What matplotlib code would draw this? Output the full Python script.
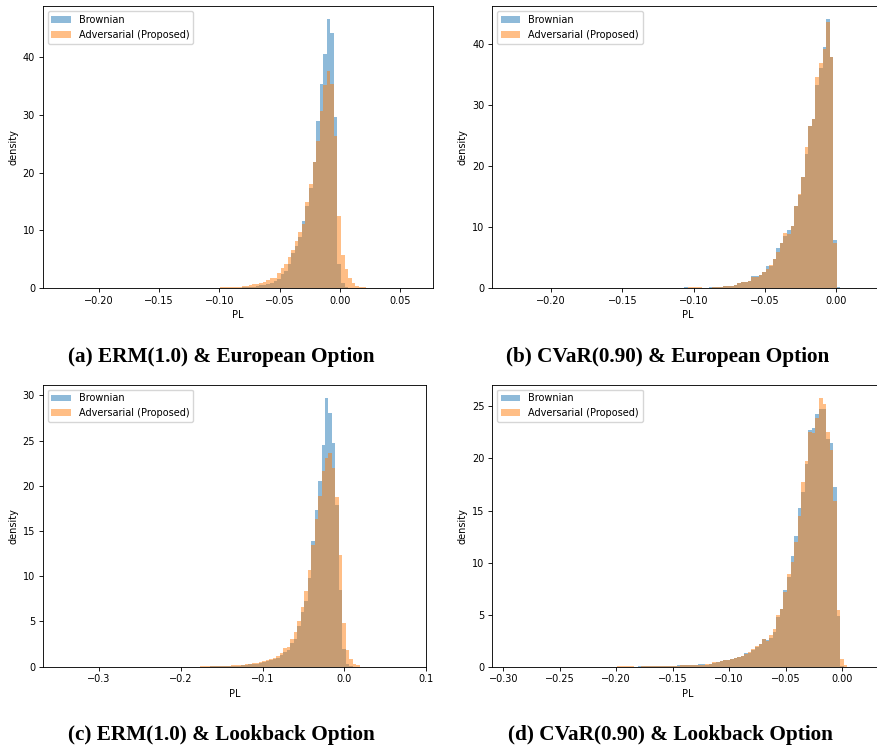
import matplotlib
matplotlib.use("Agg")
import matplotlib.pyplot as plt
import numpy as np

# histogram densities (100 shared bins per panel)
# (a) ERM(1.0) & European
a_range = (-0.2321, 0.0629)
a_start = 45
a_brownian = [0.02, 0.03, 0.05, 0.05, 0.1, 0.1, 0.15, 0.2, 0.25, 0.3, 0.4, 0.5, 0.6, 0.75,
              1.0, 1.2, 1.6, 2.4, 3.0, 4.2, 6.1, 7.4, 8.9, 11.7, 14.2, 17.3, 21.9, 29.0, 35.4,
              40.5, 46.5, 44.1, 29.6, 4.2, 1.0, 0.3, 0.05]
a_adv = [0.15, 0.2, 0.2, 0.2, 0.25, 0.3, 0.4, 0.45, 0.55, 0.7, 0.8, 1.0, 1.15, 1.4, 1.85,
         1.85, 2.6, 3.5, 4.2, 5.4, 6.7, 8.1, 9.8, 11.2, 14.9, 18.1, 21.9, 25.4, 30.6, 35.1,
         37.5, 35.4, 26.3, 12.5, 5.8, 3.4, 1.7, 0.9, 0.35, 0.2, 0.15]

# (b) CVaR(0.90) & European
b_range = (-0.2288, 0.0202)
b_start = 49
b_brownian = [0.15, 0.1, 0.1, 0.1, 0.05, 0, 0, 0.2, 0.25, 0.25, 0.25, 0.3, 0.35, 0.45, 0.6,
              0.8, 1.0, 1.1, 1.2, 2.0, 2.0, 2.1, 2.6, 3.7, 3.7, 4.8, 6.6, 7.4, 8.6, 9.6, 10.2,
              13.5, 15.3, 18.2, 22.0, 26.6, 27.7, 33.4, 36.2, 39.5, 44.1, 38.0, 7.9, 0.2]
b_adv = [0.1, 0.15, 0.15, 0.15, 0.15, 0, 0, 0.05, 0.2, 0.25, 0.25, 0.3, 0.35, 0.45, 0.6,
         0.8, 1.0, 1.1, 1.15, 1.8, 1.9, 2.1, 2.6, 3.1, 3.9, 4.8, 6.0, 7.4, 9.1, 8.9, 10.2,
         13.5, 15.5, 18.2, 23.2, 26.6, 27.7, 34.7, 36.9, 39.2, 43.6, 38.0, 7.5, 0]

# (c) ERM(1.0) & Lookback
c_range = (-0.3476, 0.0787)
c_start = 40
c_brownian = [0, 0, 0, 0.05, 0.05, 0.1, 0.05, 0.1, 0.1, 0.1, 0.1, 0.1, 0.15, 0.2, 0.25,
              0.3, 0.35, 0.4, 0.5, 0.65, 0.75, 0.9, 1.0, 1.25, 1.6, 1.85, 2.6, 3.1, 4.5, 6.0,
              7.3, 9.8, 13.9, 17.3, 20.5, 24.5, 29.7, 28.1, 24.7, 17.9, 8.5, 1.9, 0.3, 0.1]
c_adv = [0.1, 0.1, 0.05, 0.1, 0.1, 0.1, 0.1, 0.1, 0.1, 0.15, 0.15, 0.15, 0.2, 0.25, 0.3,
         0.4, 0.45, 0.5, 0.6, 0.75, 0.8, 1.0, 1.2, 1.5, 2.1, 2.2, 3.1, 3.8, 5.0, 6.6, 8.4,
         10.7, 13.5, 16.3, 18.9, 21.6, 23.1, 23.6, 22.0, 18.8, 12.4, 4.8, 1.85, 0.8, 0.35, 0.15]

# (d) CVaR(0.90) & Lookback
d_range = (-0.2940, 0.0205)
d_start = 30
d_brownian = [0, 0, 0, 0, 0, 0, 0.05, 0.1, 0.1, 0.1, 0.1, 0.1, 0.1, 0.1, 0.1, 0.1, 0.1,
              0.15, 0.2, 0.2, 0.2, 0.2, 0.2, 0.25, 0.25, 0.2, 0.25, 0.35, 0.45, 0.55, 0.65,
              0.6, 0.7, 0.8, 0.9, 1.0, 1.3, 1.35, 1.6, 1.9, 2.2, 2.65, 2.55, 2.8, 3.35, 4.8,
              5.5, 7.4, 8.6, 10.6, 12.6, 15.2, 16.8, 19.5, 22.7, 22.9, 24.3, 24.8, 24.8, 21.9,
              21.5, 17.3, 4.9, 0.05]
d_adv = [0.1, 0.1, 0.1, 0.1, 0.05, 0, 0, 0.05, 0.05, 0.05, 0.1, 0.1, 0.1, 0.1, 0.1, 0.1,
         0.1, 0.1, 0.15, 0.15, 0.15, 0.15, 0.2, 0.2, 0.2, 0.25, 0.3, 0.45, 0.45, 0.5, 0.6,
         0.6, 0.75, 0.8, 0.9, 1.0, 1.2, 1.4, 1.7, 2.0, 2.2, 2.65, 2.45, 3.0, 3.6, 4.95, 5.5,
         7.2, 8.95, 10.1, 12.0, 14.5, 17.7, 19.8, 22.5, 22.4, 23.9, 25.8, 25.2, 22.5, 20.8,
         15.9, 5.4, 0.75, 0.15]

captions = ["(a) ERM(1.0) & European Option", "(b) CVaR(0.90) & European Option",
            "(c) ERM(1.0) & Lookback Option", "(d) CVaR(0.90) & Lookback Option"]
labels = ["Brownian", "Adversarial (Proposed)"]
n_bins = 100

s = 0.787  # the panels were shrunk into the page
plt.rcParams.update({
    "font.size": 7.0,
    "axes.linewidth": 0.8 * s,
    "xtick.major.size": 3.5 * s, "ytick.major.size": 3.5 * s,
    "xtick.major.width": 0.8 * s, "ytick.major.width": 0.8 * s,
    "xtick.major.pad": 3.5 * s, "ytick.major.pad": 3.5 * s,
    "axes.labelpad": 4 * s,
    "legend.fontsize": 7.0,
})


def full(start, vals):
    out = np.zeros(n_bins)
    out[start:start + len(vals)] = vals
    return out


def panel(ax, rng, start, brown, adv):
    edges = np.linspace(rng[0], rng[1], n_bins + 1)
    ax.hist(edges[:-1], bins=edges, weights=full(start, brown), alpha=0.5, label=labels[0])
    ax.hist(edges[:-1], bins=edges, weights=full(start, adv), alpha=0.5, label=labels[1])
    ax.set_xlabel("PL")
    ax.set_ylabel("density")
    ax.legend(loc="upper left")


fig = plt.figure(figsize=(8.77, 7.5), dpi=100)
ax_a = fig.add_axes([0.0487, 0.6156, 0.4454, 0.3764])
ax_b = fig.add_axes([0.5613, 0.6156, 0.4454, 0.3764])
ax_c = fig.add_axes([0.0487, 0.1111, 0.4371, 0.3760])
ax_d = fig.add_axes([0.5613, 0.1111, 0.4454, 0.3760])

panel(ax_a, a_range, a_start, a_brownian, a_adv)
panel(ax_b, b_range, b_start, b_brownian, b_adv)
panel(ax_c, c_range, c_start, c_brownian, c_adv)
panel(ax_d, d_range, d_start, d_brownian, d_adv)

cap_kw = dict(ha="center", va="center", fontsize=15.3, fontweight="bold",
              family=["Liberation Serif", "DejaVu Serif"])
fig.text(221 / 877, 1 - 357 / 750, captions[0], **cap_kw)
fig.text(668 / 877, 1 - 357 / 750, captions[1], **cap_kw)
fig.text(221 / 877, 1 - 735 / 750, captions[2], **cap_kw)
fig.text(670 / 877, 1 - 735 / 750, captions[3], **cap_kw)

fig.savefig("out.png", dpi=100)
